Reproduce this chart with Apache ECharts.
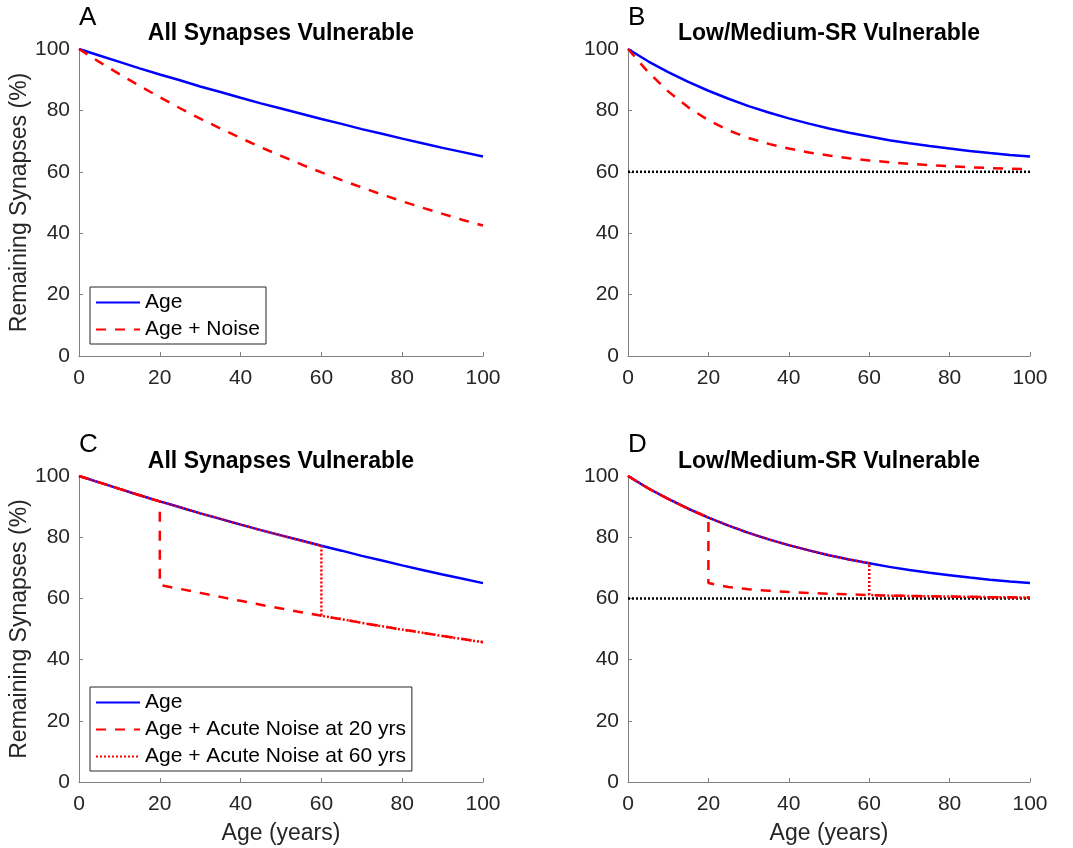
<!DOCTYPE html>
<html>
<head>
<meta charset="utf-8">
<script src="https://cdn.jsdelivr.net/npm/echarts@6/dist/echarts.min.js"></script>
<style>
  html, body { margin: 0; padding: 0; background: #fff; }
  #container { width: 1073px; height: 848px; }
</style>
</head>
<body>
<div id="container"></div>
<script>
// ages sampled every 5 years
const ages = [0, 5, 10, 15, 20, 25, 30, 35, 40, 45, 50, 55, 60, 65, 70, 75, 80, 85, 90, 95, 100];

// all synapses vulnerable
const allAge   = [100, 97.9, 95.8, 93.7, 91.7, 89.8, 87.8, 86.0, 84.1, 82.3, 80.6, 78.9, 77.2, 75.6, 73.9, 72.4, 70.8, 69.3, 67.8, 66.4, 65.0];
const allNoise = [100, 95.8, 91.8, 88.0, 84.3, 80.7, 77.3, 74.1, 71.0, 68.0, 65.2, 62.4, 59.8, 57.3, 54.9, 52.6, 50.4, 48.3, 46.3, 44.3, 42.5];

// low/medium-SR vulnerable
const lowAge   = [100, 96.0, 92.5, 89.3, 86.4, 83.8, 81.4, 79.3, 77.4, 75.7, 74.1, 72.7, 71.5, 70.3, 69.3, 68.4, 67.6, 66.8, 66.1, 65.5, 65.0];
const lowNoise = [100, 92.5, 86.2, 81.0, 76.8, 73.5, 71.0, 69.1, 67.6, 66.3, 65.3, 64.4, 63.7, 63.1, 62.6, 62.2, 61.8, 61.5, 61.2, 61.0, 60.8];
const floorLevel = 60;

// acute noise, values from the onset age onward
const allAt20 = [64.4, 63.1, 61.8, 60.5, 59.2, 57.9, 56.7, 55.5, 54.3, 53.2, 52.0, 50.9, 49.8, 48.8, 47.7, 46.7, 45.7];
const allAt60 = [54.3, 53.2, 52.0, 50.9, 49.8, 48.8, 47.7, 46.7, 45.7];
const lowAt20 = [65.0, 63.7, 63.0, 62.5, 62.1, 61.8, 61.5, 61.3, 61.1, 60.9, 60.8, 60.7, 60.6, 60.5, 60.4, 60.35, 60.3];
const lowAt60 = [61.1, 60.9, 60.8, 60.7, 60.6, 60.5, 60.4, 60.35, 60.3];

const font = "'Liberation Sans', Arial, sans-serif";
const ink = '#262626';
const axisGray = '#808080';
const dashed = [10, 9];
const dotted = [2, 2];

function pairs(vals) {
  return ages.map((a, i) => [a, vals[i]]);
}

function acute(base, onset, after) {
  const pre = ages.filter(a => a <= onset).map((a, i) => [a, base[i]]);
  const post = ages.filter(a => a >= onset).map((a, i) => [a, after[i]]);
  return pre.concat(post);
}

function line(g, name, data, color, type) {
  return {
    type: 'line', name: name, xAxisIndex: g, yAxisIndex: g, data: data,
    symbol: 'none', silent: true, animation: false,
    itemStyle: { color: color },
    lineStyle: { color: color, width: 2.5, type: type }
  };
}

function xAxis(g, withName) {
  return {
    type: 'value', gridIndex: g, min: 0, max: 100, interval: 20,
    name: withName ? 'Age (years)' : '', nameLocation: 'middle', nameGap: 40,
    nameTextStyle: { color: ink, fontSize: 23, fontFamily: font },
    axisLine: { show: true, lineStyle: { color: axisGray, width: 1 } },
    axisTick: { show: true, inside: true, length: 4, lineStyle: { color: axisGray } },
    axisLabel: { color: ink, fontSize: 21, fontFamily: font, margin: 12 },
    splitLine: { show: false }
  };
}

function yAxis(g, withName) {
  return {
    type: 'value', gridIndex: g, min: 0, max: 100, interval: 20,
    name: withName ? 'Remaining Synapses (%)' : '', nameLocation: 'middle', nameGap: 45,
    nameTextStyle: { color: ink, fontSize: 23, fontFamily: font },
    axisLine: { show: true, lineStyle: { color: axisGray, width: 1 } },
    axisTick: { show: true, inside: true, length: 4, lineStyle: { color: axisGray } },
    axisLabel: { color: ink, fontSize: 21, fontFamily: font, margin: 9 },
    splitLine: { show: false }
  };
}

function label(text, x, y, size, bold, align) {
  return {
    type: 'text', x: x, y: y, silent: true,
    style: {
      text: text, fill: '#000',
      font: (bold ? 'bold ' : '') + size + 'px ' + font,
      align: align, verticalAlign: 'middle',
      textAlign: align, textVerticalAlign: 'middle'
    }
  };
}

function legend(left, top, names) {
  return {
    orient: 'vertical', left: left, top: top, data: names,
    backgroundColor: '#fff', borderColor: ink, borderWidth: 1,
    padding: [5, 6, 4, 5], itemWidth: 44, itemHeight: 14, itemGap: 6,
    selectedMode: false,
    itemStyle: { color: 'transparent', borderColor: 'transparent', borderWidth: 0, opacity: 0 },
    textStyle: { color: '#000', fontSize: 21, fontFamily: font }
  };
}

const options = {
  backgroundColor: '#fff',
  animation: false,
  grid: [
    { left: 79, top: 49, width: 404, height: 307 },
    { left: 628, top: 49, width: 402, height: 307 },
    { left: 79, top: 476, width: 404, height: 306 },
    { left: 628, top: 476, width: 402, height: 306 }
  ],
  xAxis: [xAxis(0, false), xAxis(1, false), xAxis(2, true), xAxis(3, true)],
  yAxis: [yAxis(0, true), yAxis(1, false), yAxis(2, true), yAxis(3, false)],
  legend: [
    legend(90, 287, ['Age', 'Age + Noise']),
    legend(90, 687, ['Age', 'Age + Acute Noise at 20 yrs', 'Age + Acute Noise at 60 yrs'])
  ],
  graphic: [
    label('A', 79, 18, 26, false, 'left'),
    label('B', 628, 18, 26, false, 'left'),
    label('C', 79, 445, 26, false, 'left'),
    label('D', 628, 445, 26, false, 'left'),
    label('All Synapses Vulnerable', 281, 34, 23, true, 'center'),
    label('Low/Medium-SR Vulnerable', 829, 34, 23, true, 'center'),
    label('All Synapses Vulnerable', 281, 462, 23, true, 'center'),
    label('Low/Medium-SR Vulnerable', 829, 462, 23, true, 'center')
  ],
  series: [
    line(0, 'Age', pairs(allAge), '#0000ff', 'solid'),
    line(0, 'Age + Noise', pairs(allNoise), '#ff0000', dashed),

    line(1, 'Floor', [[0, floorLevel], [100, floorLevel]], '#000000', dotted),
    line(1, 'Age', pairs(lowAge), '#0000ff', 'solid'),
    line(1, 'Age + Noise', pairs(lowNoise), '#ff0000', dashed),

    line(2, 'Age', pairs(allAge), '#0000ff', 'solid'),
    line(2, 'Age + Acute Noise at 20 yrs', acute(allAge, 20, allAt20), '#ff0000', dashed),
    line(2, 'Age + Acute Noise at 60 yrs', acute(allAge, 60, allAt60), '#ff0000', dotted),

    line(3, 'Floor', [[0, floorLevel], [100, floorLevel]], '#000000', dotted),
    line(3, 'Age', pairs(lowAge), '#0000ff', 'solid'),
    line(3, 'Age + Acute Noise at 20 yrs', acute(lowAge, 20, lowAt20), '#ff0000', dashed),
    line(3, 'Age + Acute Noise at 60 yrs', acute(lowAge, 60, lowAt60), '#ff0000', dotted)
  ]
};

const container = document.getElementById('container');
const mychart = echarts.init(container);
mychart.setOption(options);
window.addEventListener('resize', () => { mychart.resize(); });
</script>
</body>
</html>
